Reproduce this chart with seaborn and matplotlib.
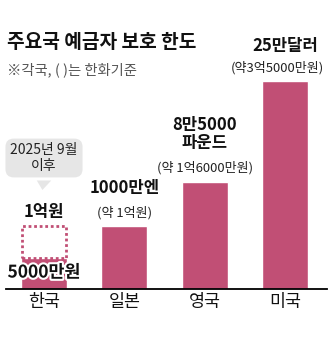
import matplotlib
matplotlib.use("Agg")
import matplotlib.pyplot as plt
import matplotlib.patheffects as pe
import seaborn as sns
import pandas as pd
from matplotlib.patches import Polygon

# ---- data ----
countries = ["한국", "일본", "영국", "미국"]
limits_eok = [0.5, 1.0, 1.7, 3.3]          # bar heights (억원)
korea_future = 1.0                          # 2025년 9월 이후
main_labels = ["1억원", "1000만엔", "8만5000\n파운드", "25만달러"]
sub_labels = ["", "(약 1억원)", "(약 1억6000만원)", "(약3억5000만원)"]
korea_now_label = "5000만원"
title = "주요국 예금자 보호 한도"
subtitle = "※각국, ( )는 한화기준"
callout = "2025년 9월\n이후"

BAR = "#c14f75"

sns.set_theme(style="white")
plt.rcParams["font.family"] = ["Noto Sans CJK KR", "DejaVu Sans"]

W, H = 331, 350
fig = plt.figure(figsize=(W / 100, H / 100), dpi=100)
fig.patch.set_facecolor("white")

left_px, right_px, base_px, top_px = 6, 327, 289, 20
ax = fig.add_axes([left_px / W, (H - base_px) / H, (right_px - left_px) / W, (base_px - top_px) / H])

df = pd.DataFrame({"country": countries, "limit": limits_eok})
sns.barplot(data=df, x="country", y="limit", color=BAR, saturation=1, width=0.57, ax=ax)

# dotted box for Korea's future limit
ax.bar(0, korea_future - limits_eok[0], bottom=limits_eok[0], width=0.55,
       fill=False, edgecolor=BAR, linestyle=(0, (1, 1)), linewidth=2.0)

ppx = 80.3
ax.set_xlim(-(44 - left_px) / ppx, 3 + (right_px - 285) / ppx)
ax.set_ylim(0, (base_px - top_px) / 63.0)

for s in ["top", "right", "left"]:
    ax.spines[s].set_visible(False)
ax.spines["bottom"].set_color("black")
ax.spines["bottom"].set_linewidth(1.3)
ax.set_yticks([])
ax.set_xlabel("")
ax.set_ylabel("")
ax.tick_params(axis="x", length=0, pad=3, labelsize=12.5, labelcolor="#111111")

PT = 72 / 100  # px -> pt
MAIN = 12
SUB = 9.4

def lab(x, y, text, dy_px, bold=False, size=SUB, color="#222222", dx_px=0):
    return ax.annotate(text, (x, y), xytext=(dx_px * PT, dy_px * PT), textcoords="offset points",
                       ha="center", va="center", fontsize=size,
                       fontweight="bold" if bold else "normal", color=color,
                       linespacing=1.0)

# labels for Japan, UK, US
lab(1, limits_eok[1], main_labels[1], 38, bold=True, size=MAIN, color="#111111")
lab(1, limits_eok[1], sub_labels[1], 13)
l1, l2 = main_labels[2].split("\n")
lab(2, limits_eok[2], l1, 57, bold=True, size=MAIN, color="#111111")
lab(2, limits_eok[2], l2, 39, bold=True, size=MAIN, color="#111111")
lab(2, limits_eok[2], sub_labels[2], 14)
lab(3, limits_eok[3], main_labels[3], 35, bold=True, size=MAIN, color="#111111")
lab(3, limits_eok[3], sub_labels[3], 13, dx_px=-8)

# Korea labels
lab(0, korea_future, main_labels[0], 14, bold=True, size=MAIN, color="#111111")
t = lab(0, limits_eok[0], korea_now_label, -15, bold=True, size=12.5, color="#111111")
t.set_path_effects([pe.withStroke(linewidth=3, foreground="white")])

# callout bubble
ax.annotate(callout, (0, korea_future), xytext=(0, (226 - 158) * PT), textcoords="offset points",
            ha="center", va="center", fontsize=10, color="#222222", linespacing=1.1,
            bbox=dict(boxstyle="round,pad=0.35,rounding_size=0.6", fc="#e6e6e6", ec="none"))
yb = (base_px - 180.5) / 63.0
yt = (base_px - 190) / 63.0
ax.add_patch(Polygon([[-0.09, yb], [0.09, yb], [-0.02, yt]], closed=True,
                     fc="#e6e6e6", ec="none", clip_on=False))

# title / subtitle
fig.text(7 / W, 1 - 43 / H, title, fontsize=13.8, fontweight="bold", color="#111111", va="center", ha="left")
fig.text(7 / W, 1 - 70 / H, subtitle, fontsize=10.3, color="#555555", va="center", ha="left")

fig.savefig("out.png", dpi=100, facecolor="white")
